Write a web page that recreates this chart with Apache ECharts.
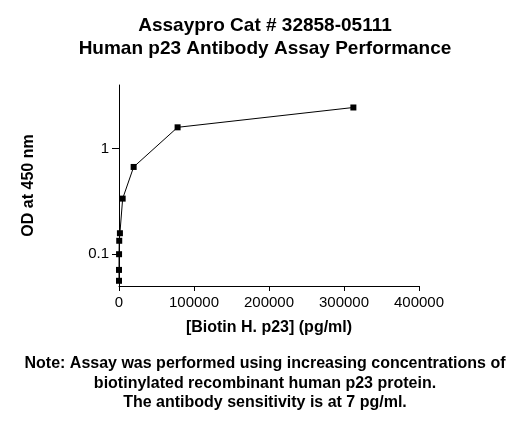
<!DOCTYPE html>
<html>
<head>
<meta charset="utf-8">
<script src="https://cdn.jsdelivr.net/npm/echarts@6/dist/echarts.min.js"></script>
<style>
html,body{margin:0;padding:0;background:#fff;}
#chart{width:530px;height:425px;}
</style>
</head>
<body>
<div id="chart"></div>
<script>
const concentrations = [4.8, 19, 76, 305, 1221, 4883, 19531, 78125, 312500];
const odValues = [0.056, 0.071, 0.100, 0.134, 0.158, 0.336, 0.67, 1.59, 2.45];
const xTicks = [0, 100000, 200000, 300000, 400000];
const yTicks = [0.1, 1];
const titleLines = ['Assaypro Cat # 32858-05111', 'Human p23 Antibody Assay Performance'];
const noteLines = ['Note: Assay was performed using increasing concentrations of', 'biotinylated recombinant human p23 protein.', 'The antibody sensitivity is at 7 pg/ml.'];
const xName = '[Biotin H. p23] (pg/ml)';
const yName = 'OD at 450 nm';

const font = 'Liberation Sans, Arial, sans-serif';
const chart = echarts.init(document.getElementById('chart'));
chart.setOption({
  animation: false,
  backgroundColor: '#fff',
  title: [
    {
      text: titleLines.join('\n'), left: 'center', top: 9,
      textStyle: {fontFamily: font, fontWeight: 'bold', fontSize: 19, lineHeight: 23, color: '#000'}
    },
    {
      text: noteLines.join('\n'), left: 'center', top: 349,
      textStyle: {fontFamily: font, fontWeight: 'bold', fontSize: 16, lineHeight: 19.5, color: '#000'}
    }
  ],
  grid: {left: 119, right: 111, top: 85, bottom: 139, containLabel: false},
  xAxis: {
    type: 'value', min: 0, max: 400000, interval: 100000,
    name: xName, nameLocation: 'middle', nameGap: 34,
    nameTextStyle: {fontFamily: font, fontWeight: 'bold', fontSize: 16, color: '#000'},
    axisLine: {onZero: false, lineStyle: {color: '#000', width: 1}},
    axisTick: {inside: false, length: 5, lineStyle: {color: '#000'}, customValues: xTicks},
    axisLabel: {fontFamily: font, fontSize: 15, color: '#000', margin: 9, customValues: xTicks,
      formatter: v => String(v)},
    splitLine: {show: false}
  },
  yAxis: {
    type: 'log', logBase: 10, min: 0.05, max: 4,
    name: yName, nameLocation: 'middle', nameGap: 82, nameRotate: 90,
    nameTextStyle: {fontFamily: font, fontWeight: 'bold', fontSize: 16, color: '#000'},
    axisLine: {show: true, onZero: false, lineStyle: {color: '#000', width: 1}},
    axisTick: {show: true, inside: false, length: 7, lineStyle: {color: '#000'}, customValues: yTicks},
    axisLabel: {fontFamily: font, fontSize: 15, color: '#000', margin: 10, customValues: yTicks,
      formatter: v => String(v)},
    splitLine: {show: false}
  },
  series: [{
    type: 'line',
    data: concentrations.map((c, i) => [c, odValues[i]]),
    symbol: 'rect', symbolSize: 6,
    itemStyle: {color: '#000'},
    lineStyle: {color: '#000', width: 1}
  }]
});
</script>
</body>
</html>
